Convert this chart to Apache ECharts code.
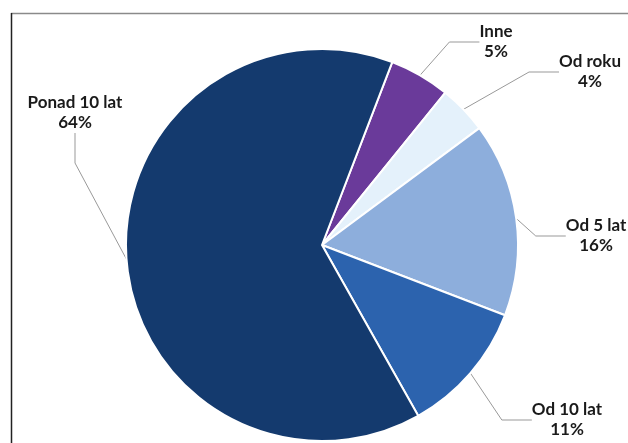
<!DOCTYPE html>
<html><head><meta charset="utf-8">
<script src="https://cdn.jsdelivr.net/npm/echarts@6/dist/echarts.min.js"></script>
<style>html,body{margin:0;padding:0;background:#fff}#c{width:628px;height:443px}</style>
</head><body><div id="c"></div>
<script>
const categories = ['Inne', 'Od roku', 'Od 5 lat', 'Od 10 lat', 'Ponad 10 lat'];
const values = [5, 4, 16, 11, 64];
const colors = ['#6a3a9a', '#e4f1fb', '#8daedc', '#2c63ae', '#143a6e'];
const labelPos = [[496, 42], [590, 72], [596, 236], [567, 420], [75, 113]];

const chart = echarts.init(document.getElementById('c'), null, {renderer: 'canvas'});
const data = categories.map((n, i) => ({
  name: n, value: values[i],
  itemStyle: {color: colors[i]}
}));
chart.setOption({
  animation: false,
  graphic: [
    {type: 'line', shape: {x1: 11, y1: 13.5, x2: 628, y2: 13.5}, style: {stroke: '#8a8a8a', lineWidth: 1.5}},
    {type: 'line', shape: {x1: 11.5, y1: 13, x2: 11.5, y2: 443}, style: {stroke: '#222', lineWidth: 1.5}}
  ],
  series: [{
    type: 'pie',
    center: [322, 245],
    radius: [0, 196],
    startAngle: 69,
    clockwise: true,
    data: data,
    itemStyle: {borderColor: '#fff', borderWidth: 2},
    label: {
      show: true,
      formatter: '{b}\n{c}%',
      fontFamily: 'Lato',
      fontWeight: 'bold',
      fontSize: 17,
      lineHeight: 20,
      color: '#1a1a1a',
      align: 'center',
      overflow: 'none'
    },
    labelLine: {show: true, lineStyle: {color: '#999', width: 1}},
    labelLayout: function (p) {
      const pos = labelPos[p.dataIndex];
      return {x: pos[0], y: pos[1], align: 'center', verticalAlign: 'middle', moveOverlap: null};
    },
    emphasis: {disabled: true}
  }]
});
</script></body></html>
